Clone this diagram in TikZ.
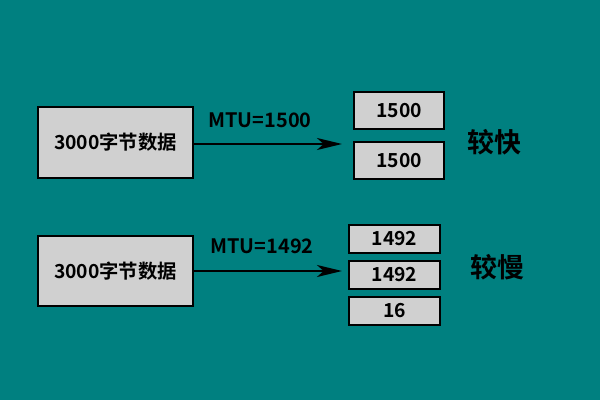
\documentclass[tikz,border=0pt]{standalone}
\usepackage{fontspec}
\setmainfont{Noto Sans CJK SC}[BoldFont={Noto Sans CJK SC Bold}]
\usetikzlibrary{arrows.meta}
\definecolor{bgteal}{HTML}{008080}
\definecolor{boxgray}{HTML}{D0D0D0}
\tikzset{
  datablock/.style={rectangle, draw=black, line width=1.8pt, fill=boxgray, minimum width=4.65cm, minimum height=2.12cm, font=\bfseries\fontsize{16.5}{19}\selectfont, inner sep=0pt},
  packet/.style={rectangle, draw=black, line width=1.8pt, fill=boxgray, minimum width=2.7cm, minimum height=1.1cm, font=\bfseries\fontsize{16.5}{19}\selectfont, inner sep=0pt},
  smallpacket/.style={packet, minimum width=2.73cm, minimum height=0.84cm},
  sendarrow/.style={line width=1.8pt, -{Stealth[length=0.75cm,width=0.36cm,inset=0.2cm]}},
  mtu/.style={font=\bfseries\fontsize{17}{20}\selectfont},
  speed/.style={font=\bfseries\fontsize{23}{26}\selectfont}
}
\begin{document}
\begin{tikzpicture}[x=0.03cm,y=-0.03cm]
\fill[bgteal] (0,0) rectangle (600,400);
\useasboundingbox (0,0) rectangle (600,400);
% upper row
\node (data1) [datablock] at (115.5,142.5) {3000字节数据};
\coordinate (tip1) at (342,144);
\draw [sendarrow] (data1.east |- tip1) -- (tip1);
\node (mtu1) [mtu] at (260,120) {MTU=1500};
\node (p1a) [packet] at (399,110.5) {1500};
\node (p1b) [packet] at (399,160.5) {1500};
\node (fast) [speed] at (494,142) {较快};
% lower row
\node (data2) [datablock] at (115.5,271) {3000字节数据};
\coordinate (tip2) at (342,271);
\draw [sendarrow] (data2.east |- tip2) -- (tip2);
\node (mtu2) [mtu] at (262,246) {MTU=1492};
\node (p2a) [smallpacket] at (394.5,239) {1492};
\node (p2b) [smallpacket] at (394.5,275) {1492};
\node (p2c) [smallpacket] at (394.5,311) {16};
\node (slow) [speed] at (497,267) {较慢};
\end{tikzpicture}
\end{document}
